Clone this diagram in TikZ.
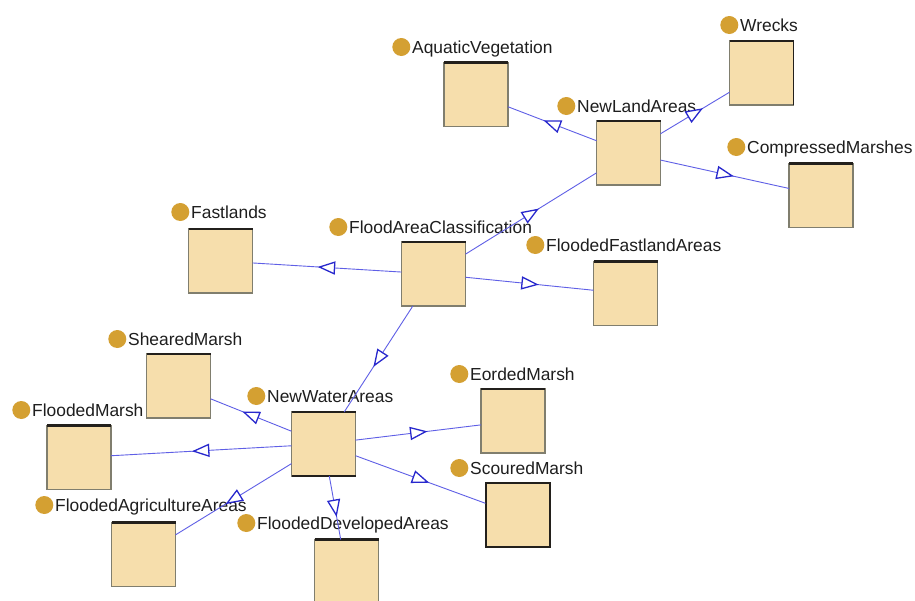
\documentclass[tikz,border=0pt]{standalone}
\usepackage{fontspec}
\setmainfont{Liberation Sans}
\usetikzlibrary{decorations.markings}

\definecolor{boxfill}{RGB}{246,222,172}
\definecolor{boxedge}{RGB}{128,126,110}
\definecolor{boxtop}{RGB}{35,32,28}
\definecolor{edgeblue}{RGB}{95,95,230}
\definecolor{tipblue}{RGB}{40,40,205}
\definecolor{dotgold}{RGB}{212,160,50}
\definecolor{labeltext}{RGB}{30,30,30}

\tikzset{
  classbox/.style={rectangle, minimum size=64pt, inner sep=0pt, outer sep=0pt,
    fill=boxfill, draw=boxedge, line width=1.3pt},
  topedge/.style={draw=boxtop, line width=2.2pt},
  classdot/.style={circle, fill=dotgold, minimum size=18pt, inner sep=0pt},
  classname/.style={anchor=west, inner sep=0pt, text=labeltext,
    font=\fontsize{17.4}{20}\selectfont, text height=12.46pt, text depth=0pt,
    label={[classdot, label distance=1.5pt]left:{}}},
  tri/.style={draw=tipblue, fill=white, line width=1.3pt, line join=miter},
  isa/.style={draw=edgeblue, line width=0.9pt,
    postaction={decorate, decoration={markings,
      mark=at position 0.5 with {\draw[tri] (7.5pt,0pt) -- (-7.5pt,5.8pt) -- (-7.5pt,-5.8pt) -- cycle;}}}}
}

\begin{document}
\begin{tikzpicture}[x=1pt, y=-1pt]
\useasboundingbox[fill=white] (0,0) rectangle (915,600);

% class boxes
\node[classbox] (av)  at (476,94.5)   {};
\node[classbox] (wr)  at (761.5,73)   {};
\node[classbox] (nla) at (628.5,153)  {};
\node[classbox] (cm)  at (821,195.5)  {};
\node[classbox] (fl)  at (220.5,261)  {};
\node[classbox] (fac) at (433.5,274)  {};
\node[classbox] (ffa) at (625.5,293.5){};
\node[classbox] (shm) at (178.5,386)  {};
\node[classbox] (nwa) at (323.5,444)  {};
\node[classbox] (em)  at (513,421)    {};
\node[classbox] (fm)  at (79,457.5)   {};
\node[classbox] (sm)  at (517.5,515)  {};
\node[classbox] (faa) at (143.5,554.5){};
\node[classbox] (fda) at (346.5,571.5){};

% darker top edges (and a few fully outlined boxes)
\foreach \n in {av,wr,nla,cm,fl,fac,ffa,shm,nwa,em,fm,sm,faa,fda}
  \draw[topedge] (\n.north west) -- (\n.north east);
\draw[boxtop, line width=1.8pt] (wr.north east) -- (wr.south east);
\draw[boxtop, line width=1.8pt] (nwa.south west) -- (nwa.south east);
\draw[boxtop, line width=2pt] (sm.north west) rectangle (sm.south east);

% class names
\node[classname] (tav)  at (412,47)  {AquaticVegetation};
\node[classname] (twr)  at (740,25)  {Wrecks};
\node[classname] (tnla) at (577,106) {NewLandAreas};
\node[classname] (tcm)  at (747,147) {CompressedMarshes};
\node[classname] (tfl)  at (191,212) {Fastlands};
\node[classname] (tfac) at (349,227) {FloodAreaClassification};
\node[classname] (tffa) at (546,245) {FloodedFastlandAreas};
\node[classname] (tshm) at (128,339) {ShearedMarsh};
\node[classname] (tnwa) at (267,396) {NewWaterAreas};
\node[classname] (tem)  at (470,374) {EordedMarsh};
\node[classname] (tfm)  at (32,410)  {FloodedMarsh};
\node[classname] (tsm)  at (470,468) {ScouredMarsh};
\node[classname] (tfaa) at (55,505)  {FloodedAgricultureAreas};
\node[classname] (tfda) at (257,523) {FloodedDevelopedAreas};

% subclass links, triangle pointing to the subclass
\draw[isa] (fac) -- (fl);
\draw[isa] (fac) -- (ffa);
\draw[isa] (fac) -- (nla);
\draw[isa] (fac) -- (nwa);
\draw[isa] (nla) -- (av);
\draw[isa] (nla) -- (wr);
\draw[isa] (nla) -- (cm);
\draw[isa] (nwa) -- (shm);
\draw[isa] (nwa) -- (fm);
\draw[isa] (nwa) -- (faa);
\draw[isa] (nwa) -- (fda);
\draw[isa] (nwa) -- (em);
\draw[isa] (nwa) -- (sm);
\end{tikzpicture}
\end{document}
